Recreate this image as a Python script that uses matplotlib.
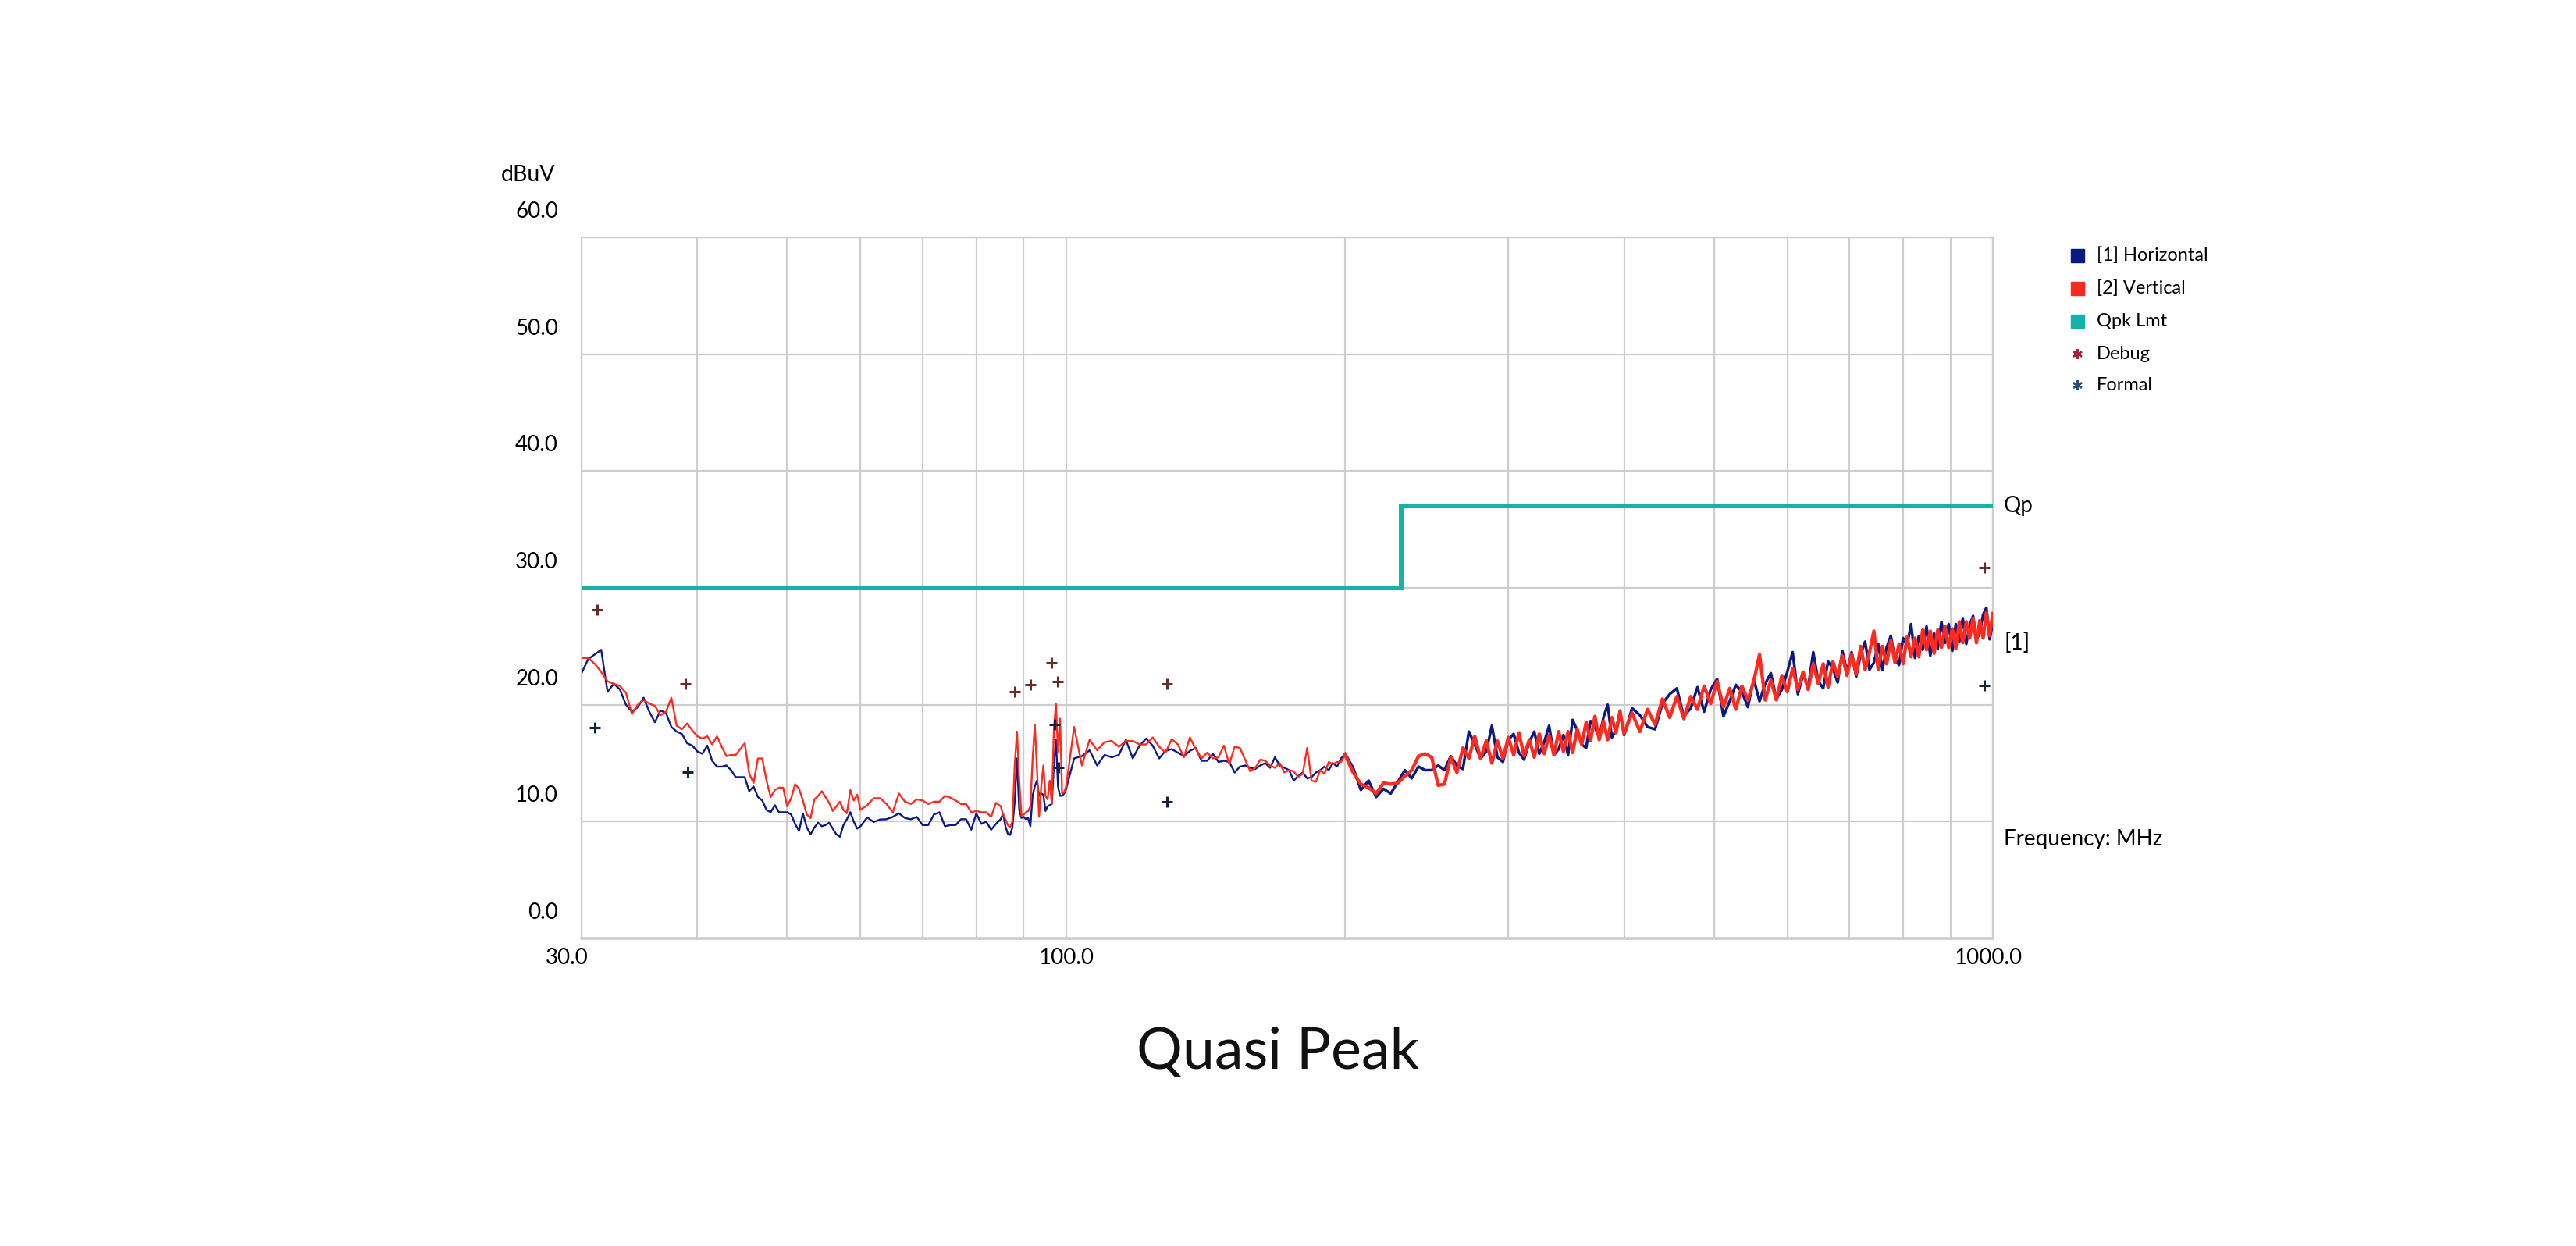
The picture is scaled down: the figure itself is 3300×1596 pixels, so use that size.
import numpy as np
import matplotlib.pyplot as plt
from matplotlib.patches import Rectangle

plt.rcParams['font.family'] = ['Lato', 'DejaVu Sans']

# ---- sweep frequencies (MHz), by segment ----
freq_a = [30, 30.5, 31, 31.5, 32, 32.5, 33, 33.5, 34, 34.5, 35, 35.5, 36, 36.5, 37, 37.5,
          38, 38.5, 39, 39.5, 40, 40.5, 41, 41.5, 42, 42.5, 43, 43.5, 44, 44.5, 45, 45.5,
          46, 46.5, 47, 47.5, 48, 48.5, 49, 49.5, 50, 50.5, 51, 51.5, 52, 52.5, 53, 53.5,
          54, 54.5, 55, 55.5, 56, 56.5, 57, 57.5, 58, 58.5, 59, 59.5, 60]
freq_b = [61, 62, 63, 64, 65, 66, 67, 68, 69, 70, 71, 72, 73, 74, 75, 76, 77, 78, 79, 80,
          81, 82, 83, 84, 85]
freq_c = [85.5, 86, 86.5, 87, 87.5, 88, 88.5, 89, 89.5, 90, 90.5, 91, 91.5, 92, 92.5, 93,
          93.5, 94, 94.5, 95, 95.5, 96, 96.5, 97, 97.5, 98, 98.5, 99, 99.5, 100]
freq_d = [102, 104, 106, 108, 110, 112, 114, 116, 118, 120, 122, 124, 126, 128, 130, 132,
          134, 136, 138, 140, 142, 144, 146, 148, 150, 152, 154, 156, 158, 160, 162, 164,
          166, 168, 170, 172, 174, 176, 178, 180, 182, 184, 186, 188, 190, 192, 194, 196,
          198, 200]
freq_e = [204, 208, 212, 216, 220, 224, 228, 232, 236, 240, 244, 248, 252,
          256, 260, 264, 268, 272, 276, 280, 284, 288, 292, 296, 300, 304, 308, 312, 316,
          320, 324, 328, 332, 336, 340, 344, 348, 352, 356, 360, 364, 368, 372, 376, 380,
          384, 388, 392, 396, 400]
freq_f = [408, 416, 424, 432, 440, 448, 456, 464, 472, 480, 488, 496, 504, 512, 520, 528,
          536, 544, 552, 560, 568, 576, 584, 592, 600, 608, 616, 624, 632, 640, 648, 656,
          664, 672, 680, 688, 696, 704, 712, 720, 728, 736, 744, 752, 760, 768, 776, 784,
          792, 800, 808, 816, 824, 832, 840, 848, 856, 864, 872, 880, 888, 896, 904, 912,
          920, 928, 936, 944, 952, 960, 968, 976, 984, 992, 1000]

# ---- [1] Horizontal (dBuV) ----
horiz_a = [22.7, 23.9, 24.3, 24.7, 21.1, 21.8, 21.3, 20.0, 19.4, 19.8, 20.6, 19.4, 18.5, 19.5,
           19.3, 18.1, 17.7, 17.5, 16.7, 16.5, 16.0, 15.8, 16.5, 15.2, 14.7, 14.7, 14.8, 14.4,
           13.8, 13.8, 13.8, 12.6, 13.0, 12.1, 11.8, 11.0, 10.8, 11.4, 10.8, 10.8, 10.8, 10.6,
           9.8, 9.2, 10.7, 9.5, 8.9, 9.5, 9.9, 9.6, 9.7, 9.9, 9.4, 8.9, 8.7, 9.7, 10.2, 10.8,
           10.0, 9.4, 9.6]
horiz_b = [10.35, 9.96, 10.18, 10.2, 10.4, 10.7, 10.3, 10.2, 10.4, 9.7, 9.7, 10.6, 10.8, 9.6,
           9.7, 9.7, 10.2, 10.2, 9.3, 10.7, 9.8, 10.0, 9.3, 9.8, 10.2]
horiz_c = [10.7, 9.6, 8.96, 8.85, 9.5, 11.7, 15.4, 11.0, 10.3, 10.4, 10.2, 10.3, 9.6, 12.2,
           13.0, 13.5, 12.2, 12.4, 12.3, 10.9, 11.3, 11.4, 11.5, 14.8, 17.0, 13.0, 12.2, 12.2,
           12.4, 12.8]
horiz_d = [15.4, 15.6, 16.1, 14.8, 15.7, 15.5, 15.7, 17.0, 15.4, 16.5, 17.1, 16.5, 15.4, 16.05,
           16.2, 15.9, 15.6, 16.05, 16.3, 15.2, 15.2, 15.8, 15.1, 15.2, 15.1, 14.2, 14.7, 14.8,
           14.6, 14.5, 14.8, 15.0, 14.6, 15.5, 14.8, 14.6, 14.4, 13.5, 13.9, 14.2, 13.7, 13.8,
           14.2, 14.4, 14.7, 14.4, 15.0, 14.7, 15.4, 15.8]
horiz_e = [14.6, 12.7, 13.5, 12.1, 12.8, 12.4, 13.4, 14.4, 13.7, 14.7, 14.4, 14.4, 14.8,
           14.4, 15.6, 14.8, 14.5, 17.7, 16.6, 15.4, 16.0, 18.2, 15.5, 15.1, 17.0, 17.5, 15.9,
           15.3, 16.8, 17.7, 15.8, 16.8, 18.2, 15.7, 16.2, 17.4, 15.7, 18.7, 17.8, 16.6, 16.3,
           18.6, 18.1, 17.2, 18.9, 20.0, 17.2, 17.8, 19.5, 17.4]
horiz_f = [19.7, 19.1, 18.1, 17.9, 20.1, 20.9, 21.4, 19.0, 19.7, 21.5, 19.4, 21.3, 22.2, 19.0,
           20.3, 21.7, 21.1, 19.8, 22.2, 20.3, 21.8, 22.7, 20.5, 21.3, 22.8, 24.5, 20.9, 22.6,
           21.5, 24.5, 22.0, 21.4, 23.7, 23.1, 21.9, 24.6, 22.8, 24.5, 22.4, 24.3, 25.4, 23.0,
           23.6, 25.2, 23.0, 24.9, 25.9, 23.9, 23.4, 25.7, 25.1, 26.9, 24.0, 25.9, 24.7, 26.7,
           24.2, 26.1, 24.8, 27.1, 25.3, 26.9, 24.6, 26.9, 25.4, 27.4, 25.2, 26.8, 27.6, 25.5,
           26.2, 27.7, 28.3, 25.6, 27.0]

# ---- [2] Vertical (dBuV) ----
vert_a = [24.0, 24.0, 23.5, 22.8, 22.0, 21.8, 21.6, 21.0, 19.2, 20.0, 20.4, 20.1, 19.9, 19.1,
          19.4, 20.6, 18.2, 17.9, 18.4, 17.8, 17.3, 17.1, 17.3, 16.6, 17.3, 16.4, 15.6, 15.7,
          15.7, 16.2, 16.7, 14.1, 13.3, 15.4, 15.4, 13.5, 12.1, 12.7, 12.9, 12.9, 11.3, 12.0,
          13.2, 12.8, 11.8, 10.6, 10.3, 11.9, 12.2, 12.6, 12.1, 11.6, 10.9, 11.3, 11.7, 11.0,
          10.7, 12.7, 11.8, 12.3, 11.0]
vert_b = [11.4, 12.0, 12.0, 11.5, 10.8, 12.4, 11.7, 11.5, 11.9, 11.8, 11.5, 11.7, 11.7, 12.2,
          12.05, 11.8, 11.5, 11.5, 10.8, 10.9, 10.8, 10.8, 10.4, 11.6, 11.3]
vert_c = [10.6, 10.2, 9.7, 9.5, 10.0, 14.8, 17.7, 13.5, 10.5, 10.6, 10.8, 10.9, 11.3, 15.3,
          18.3, 14.6, 10.4, 13.0, 14.8, 12.2, 11.9, 13.5, 11.5, 17.9, 20.1, 15.9, 18.8, 12.4,
          12.5, 13.0]
vert_d = [18.1, 14.8, 17.0, 16.1, 16.8, 16.9, 16.4, 16.9, 16.9, 16.6, 16.6, 17.2, 16.4, 15.9,
          17.05, 16.6, 15.5, 17.2, 16.2, 15.4, 15.9, 15.4, 15.5, 16.5, 14.9, 16.4, 16.3, 15.3,
          14.3, 14.6, 15.3, 15.2, 14.8, 14.6, 15.0, 14.2, 14.4, 14.3, 13.8, 14.1, 16.3, 13.5,
          13.4, 14.4, 14.1, 15.1, 14.9, 15.1, 15.1, 15.7]
vert_e = [14.2, 13.2, 12.9, 12.4, 13.3, 13.2, 13.3, 13.9, 14.4, 15.6, 15.8, 15.5, 13.1,
          13.2, 15.5, 14.2, 16.3, 15.4, 17.3, 15.4, 16.9, 15.0, 16.9, 15.4, 17.2, 15.7, 17.6,
          15.6, 17.0, 15.5, 17.5, 15.8, 17.4, 15.7, 17.7, 16.0, 17.7, 15.9, 17.9, 16.6, 18.5,
          16.9, 19.0, 17.0, 18.6, 17.0, 18.9, 17.6, 19.4, 17.5]
vert_f = [19.3, 17.7, 19.6, 18.3, 20.5, 18.9, 20.7, 18.8, 20.7, 19.6, 21.6, 20.1, 22.0, 19.8,
          21.4, 19.6, 21.6, 20.4, 22.0, 24.3, 20.4, 22.1, 20.4, 22.5, 21.1, 23.1, 21.3, 22.8,
          21.3, 23.5, 21.8, 23.5, 21.5, 23.7, 22.4, 24.2, 22.5, 24.3, 22.6, 25.0, 23.0, 24.5,
          26.3, 23.0, 25.0, 23.5, 25.5, 23.6, 25.2, 23.5, 25.8, 24.1, 25.7, 24.1, 26.4, 24.7,
          26.3, 24.4, 26.4, 24.9, 26.7, 24.9, 26.5, 24.8, 27.1, 25.3, 27.1, 25.7, 27.4, 25.3,
          27.2, 25.7, 27.9, 25.9, 27.8]

# ---- quasi-peak limit ----
limit_freq = [30, 230, 230, 1000]
limit_db = [30, 30, 37, 37]

# ---- final measurement points ----
debug_freq = [31.16, 38.85, 88.0, 91.5, 96.5, 97.9, 128.5, 978]
debug_db = [28.1, 21.8, 21.1, 21.7, 23.6, 22.0, 21.8, 31.75]
formal_freq = [31.03, 39.05, 97.2, 98.1, 128.5, 978]
formal_db = [18.05, 14.2, 18.3, 14.65, 11.7, 21.66]

freq = freq_a + freq_b + freq_c + freq_d + freq_e + freq_f
horiz = horiz_a + horiz_b + horiz_c + horiz_d + horiz_e + horiz_f
vert = vert_a + vert_b + vert_c + vert_d + vert_e + vert_f
# sweep is drawn heavier above 200 MHz where the trace gets dense
k = freq.index(200)

c_h = '#0b1a82'
c_v = '#ff2a1e'
c_lim = '#14b2aa'
c_dbg = '#a3243b'
c_frm = '#2b4c80'
grid_c = '#cdcdcd'

fig = plt.figure(figsize=(33, 15.96), dpi=100)
ax = fig.add_axes([745 / 3300, 394 / 1596, 1808 / 3300, 898 / 1596])

ax.plot(freq[:k + 1], horiz[:k + 1], color=c_h, lw=1.7, zorder=3)
ax.plot(freq[k:], horiz[k:], color=c_h, lw=2.5, zorder=3)
ax.plot(freq[:k + 1], vert[:k + 1], color=c_v, lw=1.7, zorder=4)
ax.plot(freq[k:], vert[k:], color=c_v, lw=3.1, zorder=4)
ax.plot(limit_freq, limit_db, color=c_lim, lw=4.3, zorder=5, solid_joinstyle='miter')
ax.plot(debug_freq, debug_db, ls='none', marker='+', ms=10, mew=2.2, color='#6a2a2a', zorder=6)
ax.plot(formal_freq, formal_db, ls='none', marker='+', ms=10, mew=2.2, color='#15223c', zorder=6)

ax.set_xscale('log')
ax.set_xlim(30, 1000)
ax.set_ylim(0, 60)
ax.set_xticks([30, 100, 1000])
ax.set_xticks([40, 50, 60, 70, 80, 90, 200, 300, 400, 500, 600, 700, 800, 900], minor=True)
ax.set_yticks([0, 10, 20, 30, 40, 50, 60])
ax.tick_params(which='both', length=0, labelbottom=False, labelleft=False)
ax.grid(True, which='both', color=grid_c, lw=1.6)
ax.set_axisbelow(True)
for s in ax.spines.values():
    s.set_color(grid_c)
    s.set_linewidth(1.6)
ax.spines['bottom'].set_linewidth(2.6)

# y labels sit above their gridlines
for v in [0, 10, 20, 30, 40, 50, 60]:
    ax.annotate(f'{v:.1f}', xy=(0, v), xycoords=('axes fraction', 'data'),
                xytext=(-30, 33), textcoords='offset pixels',
                ha='right', va='center', fontsize=20)

for f, dx in [(30, -19), (100, 0), (1000, -6)]:
    ax.annotate(f'{f:.1f}', xy=(f, 0), xycoords=('data', 'axes fraction'),
                xytext=(dx, -25), textcoords='offset pixels',
                ha='center', va='center', fontsize=20)

for txt, v in [('Qp', 37), ('[1]', 25.3), ('Frequency: MHz', 8.5)]:
    ax.annotate(txt, xy=(1, v), xycoords=('axes fraction', 'data'),
                xytext=(14, 0), textcoords='offset pixels',
                ha='left', va='center', fontsize=20)

# overlay in pixel space for legend and titles
ov = fig.add_axes([0, 0, 1, 1], zorder=-1)
ov.set_xlim(0, 3300)
ov.set_ylim(1596, 0)
ov.axis('off')

ov.text(711, 224, 'dBuV', ha='right', va='center', fontsize=20.5)
ov.text(1637, 1349, 'Quasi Peak', ha='center', va='center', fontsize=53, color='#111111')

leg_y = [327, 369, 411, 453, 493]
leg_txt = ['[1] Horizontal', '[2] Vertical', 'Qpk Lmt', 'Debug', 'Formal']
for i, c in enumerate([c_h, c_v, c_lim]):
    ov.add_patch(Rectangle((2652.5, leg_y[i] - 8.5), 17, 17, color=c))
ov.plot([2661], [leg_y[3]], marker=(6, 2, 0), ms=9, mew=1.8, color=c_dbg, ls='none')
ov.plot([2661], [leg_y[4]], marker=(6, 2, 0), ms=9, mew=1.8, color=c_frm, ls='none')
for y, t in zip(leg_y, leg_txt):
    ov.text(2686, y, t, ha='left', va='center', fontsize=17)

fig.savefig('out.png', dpi=100)
